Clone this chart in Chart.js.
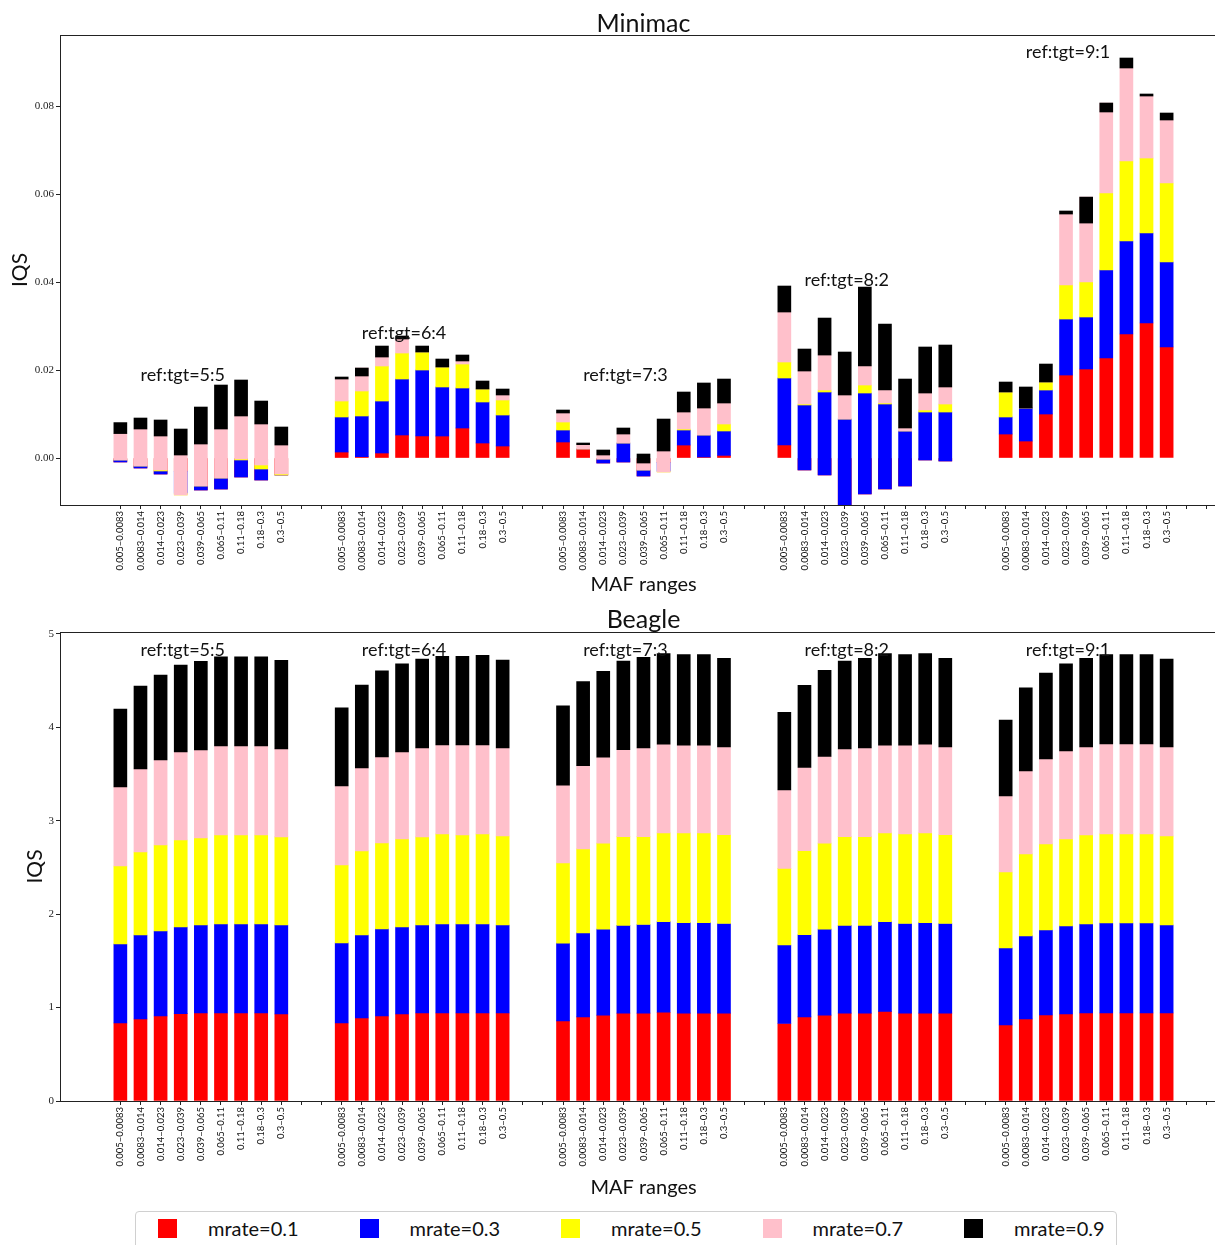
<!DOCTYPE html>
<html>
<head>
<meta charset="utf-8">
<script src="https://cdn.jsdelivr.net/npm/chart.js@4.4.0/dist/chart.umd.min.js"></script>
<style>
    html, body { margin: 0; padding: 0; background: #fff; }
    #page { position: relative; width: 1215px; height: 1245px; overflow: hidden; }
    canvas { position: absolute; left: 0; }
    #cTop { top: 0; }
    #cBottom { top: 600px; }
    #legend {
        position: absolute; left: 135px; top: 1211px; width: 980px; height: 60px;
        border: 1px solid #d0d0d0; border-radius: 4px; background: #fff;
        font-family: Lato, sans-serif; font-size: 20px; color: #111;
    }
    #legend .sw { position: absolute; top: 7px; width: 19px; height: 19px; }
    #legend .tx { position: absolute; top: 4px; line-height: 24px; white-space: nowrap; }
</style>
</head>
<body>
<div id="page">
    <canvas id="cTop" width="1240" height="600"></canvas>
    <canvas id="cBottom" width="1240" height="600"></canvas>
    <div id="legend"></div>
</div>
<script>
// ---- data ----
const mafRanges = ['0.005\u20130.0083', '0.0083\u20130.014', '0.014\u20130.023', '0.023\u20130.039',
    '0.039\u20130.065', '0.065\u20130.11', '0.11\u20130.18', '0.18\u20130.3', '0.3\u20130.5'];
const ratioLabels = ['ref:tgt=5:5', 'ref:tgt=6:4', 'ref:tgt=7:3', 'ref:tgt=8:2', 'ref:tgt=9:1'];
const seriesNames = ['mrate=0.1', 'mrate=0.3', 'mrate=0.5', 'mrate=0.7', 'mrate=0.9'];
const seriesColors = ['#ff0000', '#0000ff', '#ffff00', '#ffc0cb', '#000000'];

// Minimac IQS, one value per (ratio group, MAF range), groups in order 5:5 .. 9:1
const minimacR = [
    -0.0009, -0.00227, -0.00364, -0.003, -0.00727, -0.00705, -0.00432, -0.005, -0.00386,
    0.00136, 0.0003, 0.00114, 0.00523, 0.005, 0.005, 0.00682, 0.00341, 0.00273,
    0.00364, 0.00205, -0.00114, -0.00091, -0.00409, -0.001, 0.00295, 0.00023, 0.0006,
    0.00295, -0.00273, -0.00386, -0.0115, -0.00818, -0.00705, -0.00636, -0.00045, -0.00068,
    0.00545, 0.00386, 0.01, 0.01886, 0.02023, 0.02273, 0.02818, 0.03068, 0.02523
];
const minimacB = [
    0.00045, 0.00045, 0.00069, -0.005, 0.00091, 0.0025, 0.00387, 0.0025, 0,
    0.00796, 0.00925, 0.01181, 0.01272, 0.015, 0.01114, 0.00909, 0.00932, 0.00704,
    0.00272, 0, 0.00091, 0.00432, 0.00136, -0.002, 0.00341, 0.005, 0.00554,
    0.01523, 0.01478, 0.01886, 0.02036, 0.02295, 0.01932, 0.0125, 0.0109, 0.01113,
    0.00387, 0.0075, 0.00545, 0.01273, 0.01182, 0.02, 0.02114, 0.02046, 0.01932
];
const minimacY = [
    0, 0, 0.00022, -0.0004, 0, 0, 0.00022, 0.00091, 0.00022,
    0.00363, 0.00568, 0.00796, 0.00591, 0.00409, 0.00454, 0.00545, 0.00295, 0.00341,
    0.00182, 0, 0, 0, 0, -0.00018, 0.00023, 0, 0.00159,
    0.00364, 0.00022, 0.00045, 0, 0.00182, 0.00023, 0, 0.00046, 0.00182,
    0.00568, 0, 0.00182, 0.00773, 0.00795, 0.0175, 0.01818, 0.01704, 0.01795
];
const minimacP = [
    0.006, 0.00841, 0.00773, 0.00908, 0.00954, 0.01114, 0.00978, 0.00932, 0.00659,
    0.005, 0.00522, 0.00204, 0.00319, 0, 0, 0.00069, 0, 0.00114,
    0.00205, 0.00098, 0.00091, 0.00204, 0.00159, 0.00477, 0.00386, 0.00613, 0.00477,
    0.01136, 0.0075, 0.00795, 0.00546, 0.00432, 0.00295, 0.00068, 0.00386, 0.00387,
    0, 0, 0, 0.01613, 0.0193, 0.02045, 0.02114, 0.01409, 0.01432
];
const minimacK = [
    0.0025, 0.0025, 0.00364, 0.00591, 0.00841, 0.01, 0.00818, 0.00522, 0.0041,
    0.00046, -0.00181, 0.0025, 0.00068, 0.00136, 0.00182, 0.00136, 0.00182, 0.00136,
    0.00068, 0.00038, 0.00114, 0.00137, 0.00205, 0.00727, 0.00455, 0.00569, 0.00545,
    0.00591, 0.005, 0.00841, 0.00977, 0.01795, 0.015, 0.01113, 0.01046, 0.00954,
    0.00227, 0.00478, 0.00409, 0.00069, -0.0059, -0.00204, 0.00227, 0.00046, 0.00159
];

// Beagle IQS
const beagleR = [
    0.835, 0.878, 0.910, 0.935, 0.942, 0.942, 0.942, 0.942, 0.931,
    0.835, 0.889, 0.910, 0.931, 0.942, 0.942, 0.942, 0.942, 0.942,
    0.857, 0.90, 0.92, 0.94, 0.94, 0.95, 0.94, 0.94, 0.94,
    0.83, 0.90, 0.92, 0.94, 0.94, 0.96, 0.94, 0.94, 0.94,
    0.814, 0.878, 0.921, 0.931, 0.942, 0.942, 0.942, 0.942, 0.942
];
const beagleB = [
    0.846, 0.899, 0.910, 0.928, 0.942, 0.953, 0.953, 0.953, 0.953,
    0.857, 0.888, 0.932, 0.932, 0.942, 0.953, 0.953, 0.953, 0.942,
    0.833, 0.90, 0.92, 0.94, 0.95, 0.97, 0.97, 0.97, 0.96,
    0.84, 0.88, 0.92, 0.94, 0.94, 0.96, 0.96, 0.97, 0.96,
    0.824, 0.889, 0.910, 0.943, 0.953, 0.964, 0.964, 0.964, 0.942
];
const beagleY = [
    0.835, 0.889, 0.921, 0.931, 0.932, 0.953, 0.953, 0.953, 0.943,
    0.835, 0.900, 0.920, 0.942, 0.943, 0.964, 0.953, 0.964, 0.953,
    0.86, 0.90, 0.92, 0.95, 0.94, 0.95, 0.96, 0.96, 0.95,
    0.82, 0.90, 0.92, 0.95, 0.95, 0.95, 0.96, 0.96, 0.95,
    0.814, 0.878, 0.921, 0.931, 0.953, 0.953, 0.953, 0.953, 0.953
];
const beagleP = [
    0.846, 0.889, 0.910, 0.943, 0.942, 0.953, 0.953, 0.953, 0.942,
    0.846, 0.888, 0.921, 0.932, 0.952, 0.953, 0.964, 0.953, 0.942,
    0.83, 0.89, 0.92, 0.93, 0.95, 0.95, 0.94, 0.94, 0.94,
    0.84, 0.89, 0.93, 0.94, 0.95, 0.94, 0.95, 0.95, 0.94,
    0.814, 0.888, 0.910, 0.942, 0.942, 0.963, 0.963, 0.963, 0.953
];
const beagleK = [
    0.835, 0.888, 0.910, 0.931, 0.95, 0.953, 0.953, 0.953, 0.95,
    0.835, 0.889, 0.921, 0.943, 0.951, 0.948, 0.948, 0.958, 0.941,
    0.85, 0.90, 0.92, 0.95, 0.97, 0.97, 0.97, 0.97, 0.95,
    0.83, 0.88, 0.92, 0.94, 0.96, 0.98, 0.97, 0.97, 0.95,
    0.813, 0.889, 0.920, 0.933, 0.95, 0.958, 0.958, 0.958, 0.94
];

const minimacTicks = [0, 0.02, 0.04, 0.06, 0.08];
const beagleTicks = [0, 1, 2, 3, 4, 5];
const minimacLabelY = [0.0189, 0.0284, 0.0189, 0.0405, 0.0923];
const beagleLabelY = [4.83, 4.83, 4.83, 4.83, 4.83];

// ---- layout ----
const SLOTS = 11;            // 9 bars + 2 empty slots per ratio group
const SANS = 'Lato, sans-serif';
const SERIF = '"Liberation Serif", serif';

function slotOf(i) {
    return Math.floor(i / mafRanges.length) * SLOTS + (i % mafRanges.length);
}

// matplotlib-style stacking: each segment starts where the previous one ended
function buildDatasets(series) {
    const cum = series[0].map(() => 0);
    return series.map((vals, s) => {
        const data = vals.map((v, i) => {
            const lo = cum[i];
            cum[i] = lo + v;
            return { x: slotOf(i), y: [lo, cum[i]] };
        });
        return {
            label: seriesNames[s],
            data,
            backgroundColor: seriesColors[s],
            borderWidth: 0,
            barThickness: 13,
            grouped: false,
            order: series.length - s   // later series painted over earlier ones
        };
    });
}

const framePlugin = {
    id: 'frameText',
    afterDraw(chart, args, opts) {
        const { ctx, chartArea: a, scales: { x, y } } = chart;
        ctx.save();
        ctx.strokeStyle = '#222';
        ctx.lineWidth = 1;
        ctx.strokeRect(Math.round(a.left) + 0.5, Math.round(a.top) + 0.5, a.right - a.left, a.bottom - a.top);

        ctx.fillStyle = '#111';
        ctx.font = `25px ${SANS}`;
        ctx.textAlign = 'center';
        ctx.textBaseline = 'alphabetic';
        ctx.fillText(opts.title, (a.left + a.right) / 2, opts.titleBaseline);

        ctx.font = `18px ${SANS}`;
        ctx.textAlign = 'left';
        ctx.textBaseline = 'middle';
        ratioLabels.forEach((t, g) => {
            ctx.fillText(t, x.getPixelForValue(g * SLOTS + 1), y.getPixelForValue(opts.labelY[g]));
        });
        ctx.restore();
    }
};

function makeChart(id, cfg) {
    const allSlots = Array.from({ length: ratioLabels.length * SLOTS }, (_, k) => k);
    return new Chart(document.getElementById(id), {
        type: 'bar',
        data: { datasets: buildDatasets(cfg.series) },
        plugins: [framePlugin],
        options: {
            responsive: false,
            animation: false,
            layout: { padding: { top: cfg.padTop, left: 0, right: 13, bottom: 0 } },
            plugins: {
                legend: { display: false },
                tooltip: { enabled: false },
                frameText: { title: cfg.title, titleBaseline: cfg.titleBaseline, labelY: cfg.labelY }
            },
            scales: {
                x: {
                    type: 'linear',
                    offset: false,
                    min: -3,
                    max: 55,
                    afterBuildTicks: s => { s.ticks = allSlots.map(v => ({ value: v })); },
                    afterFit: s => { s.height = cfg.xAxisH; },
                    ticks: {
                        autoSkip: false,
                        minRotation: 90,
                        maxRotation: 90,
                        padding: 2,
                        color: '#111',
                        font: { family: SANS, size: 9.5 },
                        callback: v => {
                            const j = v % SLOTS;
                            return j < mafRanges.length ? mafRanges[j] : '';
                        }
                    },
                    grid: { drawOnChartArea: false, offset: false, tickLength: 4, color: '#222' },
                    border: { color: '#222' },
                    title: {
                        display: true,
                        text: 'MAF ranges',
                        color: '#111',
                        font: { family: SANS, size: 20 },
                        padding: { top: 0, bottom: cfg.xTitlePad }
                    }
                },
                y: {
                    min: cfg.yMin,
                    max: cfg.yMax,
                    afterBuildTicks: s => { s.ticks = cfg.ticks.map(v => ({ value: v })); },
                    afterFit: s => { s.width = 60; },
                    ticks: {
                        padding: 2,
                        color: '#222',
                        font: { family: SERIF, size: 11 },
                        callback: cfg.tickFmt
                    },
                    grid: { drawOnChartArea: false, tickLength: 4, color: '#222' },
                    border: { color: '#222' },
                    title: {
                        display: true,
                        text: 'IQS',
                        color: '#111',
                        font: { family: SANS, size: 21 },
                        padding: { top: cfg.yTitlePad, bottom: 0 }
                    }
                }
            }
        }
    });
}

makeChart('cTop', {
    series: [minimacR, minimacB, minimacY, minimacP, minimacK],
    title: 'Minimac', titleBaseline: 32, labelY: minimacLabelY,
    padTop: 35, xAxisH: 95, xTitlePad: 3, yTitlePad: 8,
    yMin: -0.01068, yMax: 0.09614, ticks: minimacTicks,
    tickFmt: v => v.toFixed(2)
});

makeChart('cBottom', {
    series: [beagleR, beagleB, beagleY, beagleP, beagleK],
    title: 'Beagle', titleBaseline: 28, labelY: beagleLabelY,
    padTop: 32, xAxisH: 99, xTitlePad: 0, yTitlePad: 23,
    yMin: 0, yMax: 5.021, ticks: beagleTicks,
    tickFmt: v => String(v)
});

// legend
const legendEl = document.getElementById('legend');
seriesNames.forEach((name, i) => {
    const sw = document.createElement('span');
    sw.className = 'sw';
    sw.style.left = (22 + 201.5 * i) + 'px';
    sw.style.background = seriesColors[i];
    const tx = document.createElement('span');
    tx.className = 'tx';
    tx.style.left = (72 + 201.5 * i) + 'px';
    tx.textContent = name;
    legendEl.append(sw, tx);
});
</script>
</body>
</html>
